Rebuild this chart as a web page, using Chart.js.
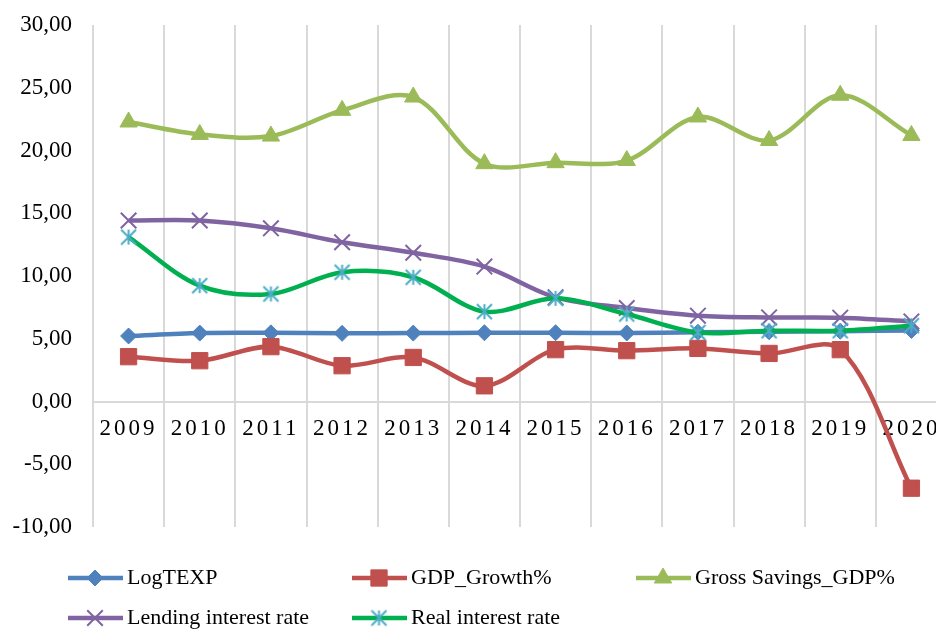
<!DOCTYPE html>
<html>
<head>
<meta charset="utf-8">
<script src="https://cdn.jsdelivr.net/npm/chart.js@4.4.0/dist/chart.umd.min.js"></script>
<style>
html,body{margin:0;padding:0;background:#fff;overflow:hidden;}
#wrap{width:960px;height:630px;position:relative;}
</style>
</head>
<body>
<div id="wrap"><canvas id="myChart"></canvas></div>
<script>
'use strict'

let years = ['2009','2010','2011','2012','2013','2014','2015','2016','2017','2018','2019','2020'];
let logTexp = [5.22, 5.45, 5.47, 5.43, 5.45, 5.48, 5.48, 5.46, 5.52, 5.56, 5.60, 5.66];
let gdpGrowth = [3.57, 3.25, 4.37, 2.85, 3.51, 1.25, 4.13, 4.05, 4.23, 3.83, 4.13, -6.91];
let grossSavings = [22.27, 21.28, 21.15, 23.20, 24.26, 18.95, 19.03, 19.20, 22.67, 20.80, 24.40, 21.20];
let lendingRate = [14.42, 14.42, 13.80, 12.69, 11.85, 10.75, 8.30, 7.45, 6.84, 6.70, 6.68, 6.38];
let realRate = [13.10, 9.23, 8.57, 10.30, 9.90, 7.16, 8.22, 6.97, 5.50, 5.64, 5.64, 6.04];
let seriesNames = ['LogTEXP', 'GDP_Growth%', 'Gross Savings_GDP%', 'Lending interest rate', 'Real interest rate'];
let yMin = -10, yMax = 30, yStep = 5;

const serif = '"Liberation Serif", "Times New Roman", serif';

// asterisk marker like excel's star
function makeStar(size, color) {
    let c = document.createElement('canvas');
    c.width = size + 4; c.height = size + 4;
    let g = c.getContext('2d');
    let m = c.width / 2, h = size / 2;
    g.strokeStyle = color;
    g.lineWidth = 2;
    g.beginPath();
    g.moveTo(m, m - h); g.lineTo(m, m + h);
    g.moveTo(m - h, m - h); g.lineTo(m + h, m + h);
    g.moveTo(m + h, m - h); g.lineTo(m - h, m + h);
    g.stroke();
    return c;
}
let starImg = makeStar(15, '#4bacc6');

// x labels with spaced digits
class SpacedCategory extends Chart.CategoryScale {
    drawLabels(area) {
        this.ctx.save();
        this.ctx.letterSpacing = '3px';
        super.drawLabels(area);
        this.ctx.restore();
    }
}
SpacedCategory.id = 'spacedCategory';
SpacedCategory.defaults = Chart.CategoryScale.defaults;
Chart.register(SpacedCategory);

// legend laid out in columns like the excel one
let gridLegend = {
    id: 'gridLegend',
    afterDraw(chart) {
        let ctx = chart.ctx;
        chart.data.datasets.forEach(function (ds, i) {
            let x = 68 + (i % 3) * 284;
            let y = 578 + Math.floor(i / 3) * 40;
            ctx.save();
            ctx.strokeStyle = ds.borderColor;
            ctx.lineWidth = 4.5;
            ctx.beginPath();
            ctx.moveTo(x, y);
            ctx.lineTo(x + 55, y);
            ctx.stroke();
            ctx.fillStyle = ds.pointBackgroundColor;
            ctx.strokeStyle = ds.pointBorderColor;
            ctx.lineWidth = ds.pointBorderWidth;
            Chart.helpers.drawPoint(ctx, {
                pointStyle: ds.pointStyle,
                radius: ds.pointRadius,
                borderWidth: ds.pointBorderWidth,
                rotation: 0
            }, x + 27, y);
            ctx.fillStyle = '#000';
            ctx.font = '22px ' + serif;
            ctx.textBaseline = 'middle';
            ctx.textAlign = 'left';
            ctx.fillText(ds.label, x + 59, y);
            ctx.restore();
        });
    }
};

function line(label, data, color, style, radius, bw, order, markColor) {
    return {
        label: label,
        data: data,
        borderColor: color,
        backgroundColor: color,
        borderWidth: 4.5,
        tension: 0.33,
        pointStyle: style,
        pointRadius: radius,
        pointHoverRadius: radius,
        pointBackgroundColor: markColor || color,
        pointBorderColor: markColor || color,
        pointBorderWidth: bw,
        order: order
    };
}

let ctx = document.getElementById('myChart').getContext('2d');
let myChart = new Chart(ctx, {
    type: 'line',
    data: {
        labels: years,
        datasets: [
            line(seriesNames[0], logTexp, '#4f81bd', 'rectRot', 8, 1, 4),
            line(seriesNames[1], gdpGrowth, '#c0504d', 'rect', 11.5, 1, 3),
            line(seriesNames[2], grossSavings, '#9bbb59', 'triangle', 10, 1, 2),
            line(seriesNames[3], lendingRate, '#8064a2', 'crossRot', 11, 2, 1),
            line(seriesNames[4], realRate, '#00b050', starImg, 8, 2, 0, '#4bacc6')
        ]
    },
    options: {
        responsive: true,
        maintainAspectRatio: false,
        animation: false,
        layout: { padding: { top: 25, right: 13, bottom: 103, left: 0 } },
        plugins: {
            legend: { display: false },
            tooltip: { enabled: false }
        },
        scales: {
            x: {
                type: 'spacedCategory',
                position: { y: 0 },
                offset: true,
                grid: { offset: true, color: '#d9d9d9', lineWidth: 2, drawTicks: false },
                border: { display: true, color: '#d9d9d9', width: 2 },
                ticks: { color: '#000', font: { family: serif, size: 23 }, padding: 14, maxRotation: 0, autoSkip: false }
            },
            y: {
                min: yMin,
                max: yMax,
                afterFit: function (scale) {
                    scale.width = 93;
                    scale.paddingTop = 0;
                    scale.paddingBottom = 0;
                },
                grid: { display: false, drawTicks: false },
                border: { display: false },
                ticks: {
                    stepSize: yStep,
                    color: '#000',
                    padding: 21,
                    font: { family: serif, size: 23 },
                    callback: function (v) { return v.toFixed(2).replace('.', ','); }
                }
            }
        }
    },
    plugins: [gridLegend]
});
</script>
</body>
</html>
